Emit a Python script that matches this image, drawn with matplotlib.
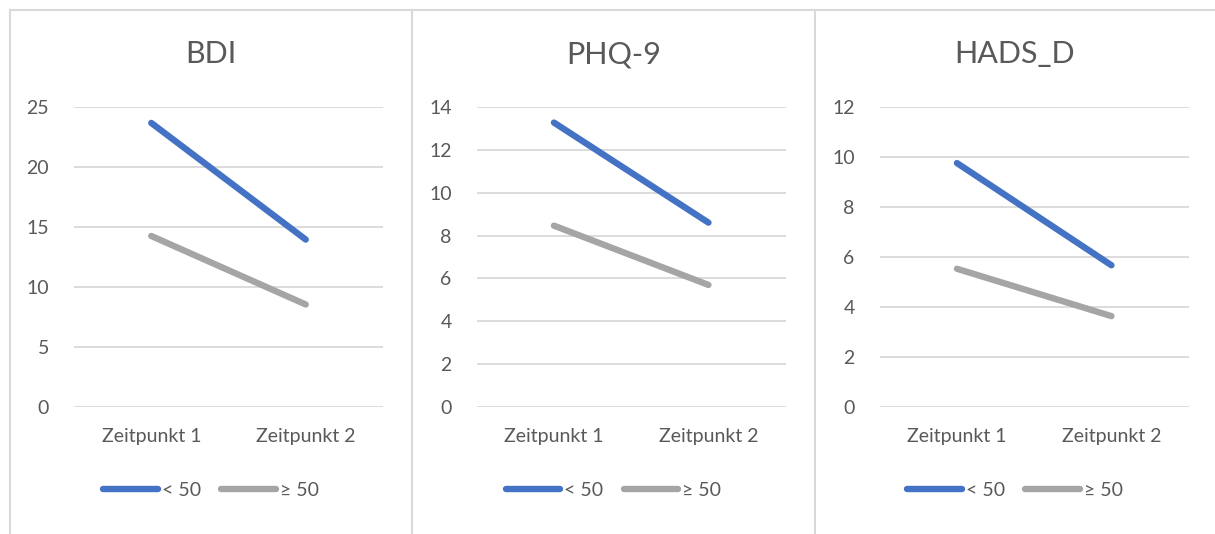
import matplotlib.pyplot as plt
from matplotlib.lines import Line2D

# data
categories = ['Zeitpunkt 1', 'Zeitpunkt 2']
titles = ['BDI', 'PHQ-9', 'HADS_D']
under50 = [[23.65, 13.95], [13.26, 8.6], [9.75, 5.67]]
over50 = [[14.25, 8.55], [8.46, 5.7], [5.53, 3.64]]
ymax = [25, 14, 12]
ystep = [5, 2, 2]
series_labels = ['< 50', '≥ 50']

W, H = 1215, 534
blue = '#4472C4'
gray = '#A5A5A5'
txt = '#595959'
border = '#D9D9D9'

plt.rcParams['font.family'] = ['Lato', 'DejaVu Sans']

fig = plt.figure(figsize=(W / 100, H / 100), dpi=100)

# panel geometry in pixels (left edge of plot area, panel left/right)
plot_left = [74, 476.7, 879.7]
plot_w = 309
panel_x = [(10, 412), (412, 815), (815, 1215)]
y_top, y_bot = 106.7, 407.3
fs = 14

for i in range(3):
    ax = fig.add_axes([plot_left[i] / W, 1 - y_bot / H, plot_w / W, (y_bot - y_top) / H])
    x = list(range(len(categories)))
    l1, = ax.plot(x, under50[i], color=blue, lw=4.6, solid_capstyle='round', label=series_labels[0], zorder=3)
    l2, = ax.plot(x, over50[i], color=gray, lw=4.6, solid_capstyle='round', label=series_labels[1], zorder=3)
    ax.set_xlim(-0.5, 1.5)
    ax.set_ylim(0, ymax[i])
    ax.set_yticks(range(0, ymax[i] + 1, ystep[i]))
    ax.set_xticks(x)
    ax.set_xticklabels(categories)
    ax.grid(axis='y', color=border, lw=1.3)
    ax.set_axisbelow(True)
    for s in ax.spines.values():
        s.set_visible(False)
    ax.tick_params(length=0, labelsize=fs, labelcolor=txt)
    ax.tick_params(axis='y', pad=18)
    ax.tick_params(axis='x', pad=15)
    cx = (panel_x[i][0] + panel_x[i][1]) / 2
    fig.text(cx / W, 1 - 54 / H, titles[i], ha='center', va='center', fontsize=22, color=txt)
    fig.legend(handles=[l1, l2], loc='center', bbox_to_anchor=(cx / W, 1 - 490 / H), ncol=2,
               frameon=False, fontsize=fs, labelcolor=txt, handlelength=2.8,
               handletextpad=0.2, columnspacing=1.05, borderpad=0)

# panel borders
fig.add_artist(Line2D([10 / W, 1], [1 - 10 / H] * 2, color=border, lw=1.5))
for xb in [10, 412, 815]:
    fig.add_artist(Line2D([xb / W] * 2, [0, 1 - 10 / H], color=border, lw=1.5))

fig.savefig('out.png', dpi=100)
